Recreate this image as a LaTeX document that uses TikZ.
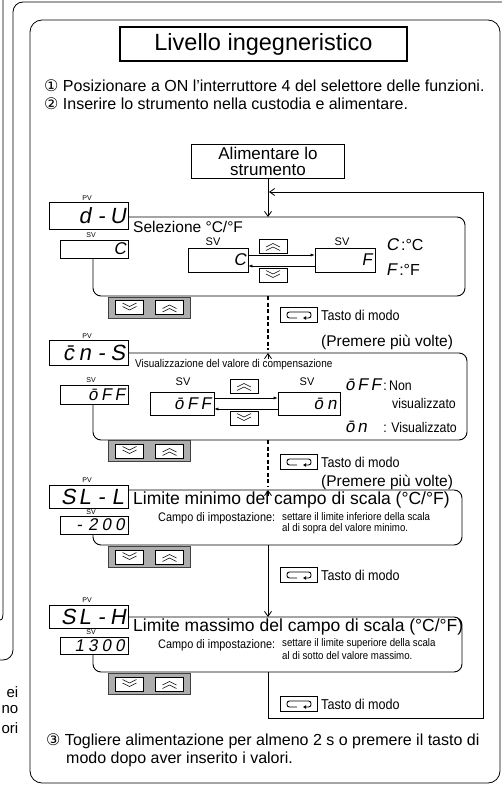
\documentclass[tikz,border=0pt]{standalone}
\usepackage{fontspec}
\setmainfont{Liberation Sans}
\newfontfamily\circfont{DejaVu Sans}
\newfontfamily\segfont{Liberation Sans}[FakeSlant=0.18]
\newfontfamily\narrowfont{Liberation Sans}[FakeStretch=0.88]
\usetikzlibrary{arrows.meta}
\newlength\segw
\newcommand\sg[1]{\makebox[\segw][c]{#1}}
\newcommand\pvf{\segfont\fontsize{22}{22}\selectfont\setlength\segw{16.5pt}}
\newcommand\svf{\segfont\fontsize{17}{17}\selectfont\setlength\segw{13.5pt}}
\newcommand\lbl{\fontsize{7}{7}\selectfont}
\newcommand\fs[1]{\fontsize{#1}{#1}\selectfont}
\tikzset{
  frame/.style={line width=0.8pt},
  boxl/.style={line width=0.9pt, rounded corners=8pt},
  disp/.style={draw, line width=0.7pt, fill=white, inner sep=0pt},
  key/.style={draw, fill=white, line width=0.6pt, minimum width=28pt, minimum height=14pt, inner sep=0pt},
  chev/.style={line width=0.5pt},
  upkey/.style={key, path picture={
     \draw[chev] ([shift={(-7pt,-1pt)}]path picture bounding box.center) -- ++(7pt,3.5pt) -- ++(7pt,-3.5pt);
     \draw[chev] ([shift={(-7pt,-4.5pt)}]path picture bounding box.center) -- ++(7pt,3.5pt) -- ++(7pt,-3.5pt);}},
  downkey/.style={key, path picture={
     \draw[chev] ([shift={(-7pt,1pt)}]path picture bounding box.center) -- ++(7pt,-3.5pt) -- ++(7pt,3.5pt);
     \draw[chev] ([shift={(-7pt,4.5pt)}]path picture bounding box.center) -- ++(7pt,-3.5pt) -- ++(7pt,3.5pt);}},
  pairbg/.style={draw=black!75, fill=black!32, line width=0.5pt, minimum width=82pt, minimum height=21pt, inner sep=0pt},
  modekey/.style={draw, line width=1.2pt, fill=white, minimum width=37pt, minimum height=15pt, inner sep=0pt,
     path picture={
     \draw[line width=0.9pt, rounded corners=2.5pt, -{Latex[length=3pt,width=4pt]}]
        ([shift={(-2pt,-3pt)}]path picture bounding box.center) -- ++(-10pt,0pt) -- ++(0pt,6pt) -- ++(24pt,0pt) -- ++(0pt,-6pt) -- ++(-8pt,0pt);}},
  flow/.style={line width=0.8pt},
  barb/.style={-{Straight Barb[length=5pt,width=7pt]}},
  dflow/.style={line width=1.1pt, dash pattern=on 4pt off 2.5pt},
  sarr/.style={line width=0.5pt, -{Latex[length=4pt,width=3pt]}},
  txt/.style={inner sep=0pt, anchor=west},
}
\begin{document}
\begin{tikzpicture}[x=1pt,y=-1pt]
\useasboundingbox (0,0) rectangle (502,786);
\fill[white] (0,0) rectangle (502,786);

% remnants of the neighbouring page
\draw[frame] (3,0) -- (3,614) to[out=-90,in=0] (0,620);
\draw[frame] (502,2) -- (23,2) to[out=180,in=90] (13,12) -- (13,650) to[out=-90,in=0] (3,660) -- (0,660);
\node[inner sep=0pt, anchor=east, font=\fs{15}] (ra) at (18.5,692) {ei};
\node[inner sep=0pt, anchor=east, font=\fs{15}] (rb) at (18.5,710) {no};
\node[inner sep=0pt, anchor=east, font=\fs{15}] (rc) at (18.5,728) {ori};

% main frame
\draw[frame, rounded corners=12pt] (30,20) rectangle (500,783);

% title and steps
\node[draw, line width=1.6pt, minimum width=287pt, minimum height=34pt, inner sep=0pt, font=\fs{23.5}] (title) at (263.5,44) {Livello ingegneristico};
\node[txt, font=\fs{16}] (s1) at (44,86) {{\circfont ①} Posizionare a ON l’interruttore 4 del selettore delle funzioni.};
\node[txt, font=\fs{16}] (s2) at (44,104) {{\circfont ②} Inserire lo strumento nella custodia e alimentare.};

\node[draw, line width=0.9pt, minimum width=153pt, minimum height=34pt, inner sep=0pt, align=center, font=\fontsize{17}{16}\selectfont] (alim) at (268,161) {Alimentare lo\\strumento};

% ---------- box 1 : Selezione
\node[disp, minimum width=79pt, minimum height=27pt] (pv1) at (88.5,216) {\makebox[75pt][r]{\pvf\sg{d}\sg{-}\sg{U}}};
\node[inner sep=0pt, font=\lbl] (pv1l) at (87,198) {PV};
\node[disp, minimum width=68pt, minimum height=18pt] (sv1) at (94,249) {\makebox[65pt][r]{\svf\sg{C}}};
\node[inner sep=0pt, font=\lbl] (sv1l) at (91,235) {SV};
\draw[boxl] (pv1.east |- 0,217) -- (465,217) -- (465,296) -- (93,296) -- (93,258);
\coordinate (b1top) at (268,217);
\coordinate (b1bot) at (268,296);
\node[txt, font=\fs{15.5}] (t1) at (133,226.5) {Selezione °C/°F};
\node[disp, minimum width=60pt, minimum height=24pt] (d1l) at (218,260) {\makebox[57pt][r]{\svf\sg{C}}};
\node[disp, minimum width=60pt, minimum height=24pt] (d1r) at (345,260) {\makebox[57pt][r]{\svf\sg{F}}};
\node[inner sep=0pt, font=\fs{11}] (d1ll) at (213,241.5) {SV};
\node[inner sep=0pt, font=\fs{11}] (d1rl) at (342,241.5) {SV};
\node[upkey] (u1) at (273,246) {};
\node[downkey] (dn1) at (273,275) {};
\draw[sarr] (d1l.east |- 0,255) -- (d1r.west |- 0,255);
\draw[sarr] (d1r.west |- 0,266) -- (d1l.east |- 0,266);
\node[txt] (lg1) at (386,245) {{\svf C}{\fs{16}\,:°C}};
\node[txt] (lg2) at (386,270) {{\svf F}{\fs{16}\,:°F}};
\node[pairbg] (p1) at (149,307.5) {};
\node[downkey] (p1d) at (129.5,307.5) {};
\node[upkey] (p1u) at (169.5,307.5) {};

% flow 1 -> 2
\node[modekey] (m1) at (299,315) {};
\node[txt, font=\narrowfont\fs{14.3}] (m1t) at (321,315) {Tasto di modo};
\node[txt, font=\fs{15.5}] (m1p) at (321,342) {(Premere più volte)};

% ---------- box 2 : Visualizzazione
\node[disp, minimum width=79pt, minimum height=25pt] (pv2) at (88.5,352.5) {\makebox[75pt][r]{\pvf\sg{\=c}\sg{n}\sg{-}\sg{S}}};
\node[inner sep=0pt, font=\lbl] (pv2l) at (87,336) {PV};
\node[disp, minimum width=68pt, minimum height=19pt] (sv2) at (94,394.5) {\makebox[65pt][r]{\svf\sg{\=o}\sg{F}\sg{F}}};
\node[inner sep=0pt, font=\lbl] (sv2l) at (91,380) {SV};
\draw[boxl] (pv2.east |- 0,353) -- (467,353) -- (467,440) -- (93,440) -- (93,404);
\coordinate (b2top) at (268,353);
\coordinate (b2bot) at (268,440);
\node[txt, font=\narrowfont\fs{11.3}] (t2) at (135,365) {Visualizzazione del valore di compensazione};
\node[disp, minimum width=64pt, minimum height=23pt] (d2l) at (182,403.5) {\makebox[61pt][r]{\svf\sg{\=o}\sg{F}\sg{F}}};
\node[disp, minimum width=62pt, minimum height=23pt] (d2r) at (309,403.5) {\makebox[59pt][r]{\svf\sg{\=o}\sg{n}}};
\node[inner sep=0pt, font=\fs{11}] (d2ll) at (183,382) {SV};
\node[inner sep=0pt, font=\fs{11}] (d2rl) at (307,382) {SV};
\node[upkey] (u2) at (244,386) {};
\node[downkey] (dn2) at (244,418) {};
\draw[sarr] (d2l.east |- 0,398) -- (d2r.west |- 0,398);
\draw[sarr] (d2r.west |- 0,409) -- (d2l.east |- 0,409);
\node[txt] (lg3) at (345,385) {{\svf\=o\,F\,F}{\narrowfont\fs{14}\,:\,Non}};
\node[inner sep=0pt, anchor=east, font=\narrowfont\fs{14}] (lg3b) at (456,403) {visualizzato};
\node[txt] (lg4) at (345,427) {\svf\=o\,n};
\node[inner sep=0pt, anchor=east, font=\narrowfont\fs{14}] (lg4b) at (457,427) {: Visualizzato};
\node[pairbg] (p2) at (149,451) {};
\node[downkey] (p2d) at (129.5,451) {};
\node[upkey] (p2u) at (169.5,451) {};

% flow 2 -> 3
\node[modekey] (m2) at (299,462) {};
\node[txt, font=\narrowfont\fs{14.3}] (m2t) at (321,462) {Tasto di modo};
\node[txt, font=\fs{15.5}] (m2p) at (321,482) {(Premere più volte)};

% ---------- box 3 : Limite minimo
\node[disp, minimum width=79pt, minimum height=23pt] (pv3) at (88.5,496.5) {\makebox[75pt][r]{\pvf\sg{S}\sg{L}\sg{-}\sg{L}}};
\node[inner sep=0pt, font=\lbl] (pv3l) at (87,480) {PV};
\node[disp, minimum width=68pt, minimum height=18pt] (sv3) at (94,525) {\makebox[65pt][r]{\svf\sg{-}\sg{2}\sg{0}\sg{0}}};
\node[inner sep=0pt, font=\lbl] (sv3l) at (91,512.5) {SV};
\draw[boxl] (pv3.east |- 0,490) -- (462,490) -- (462,545) -- (93,545) -- (93,534);
\coordinate (b3top) at (268,490);
\coordinate (b3bot) at (268,545);
\node[txt, font=\fs{17.5}] (t3) at (133,500) {Limite minimo del campo di scala (°C/°F)};
\node[txt, font=\narrowfont\fs{12.4}] (c3) at (158,518) {Campo di impostazione:};
\node[txt, font=\narrowfont\fs{11}] (c3a) at (282,517) {settare il limite inferiore della scala};
\node[txt, font=\narrowfont\fs{11}] (c3b) at (282,529) {al di sopra del valore minimo.};
\node[pairbg] (p3) at (149,557) {};
\node[downkey] (p3d) at (129.5,557) {};
\node[upkey] (p3u) at (169.5,557) {};

\node[modekey] (m3) at (299,575) {};
\node[txt, font=\narrowfont\fs{14.3}] (m3t) at (321,575) {Tasto di modo};

% ---------- box 4 : Limite massimo
\node[disp, minimum width=79pt, minimum height=23pt] (pv4) at (88.5,616.5) {\makebox[75pt][r]{\pvf\sg{S}\sg{L}\sg{-}\sg{H}}};
\node[inner sep=0pt, font=\lbl] (pv4l) at (87,600) {PV};
\node[disp, minimum width=68pt, minimum height=17pt] (sv4) at (94,645.5) {\makebox[65pt][r]{\svf\sg{1}\sg{3}\sg{0}\sg{0}}};
\node[inner sep=0pt, font=\lbl] (sv4l) at (91,632.5) {SV};
\draw[boxl] (pv4.east |- 0,617) -- (462,617) -- (462,672) -- (93,672) -- (93,654);
\coordinate (b4top) at (268,617);
\coordinate (b4bot) at (268,672);
\node[txt, font=\fs{17.5}] (t4) at (133,627) {Limite massimo del campo di scala (°C/°F)};
\node[txt, font=\narrowfont\fs{12.4}] (c4) at (158,645) {Campo di impostazione:};
\node[txt, font=\narrowfont\fs{11}] (c4a) at (282,644) {settare il limite superiore della scala};
\node[txt, font=\narrowfont\fs{11}] (c4b) at (282,656) {al di sotto del valore massimo.};
\node[pairbg] (p4) at (149,684) {};
\node[downkey] (p4d) at (129.5,684) {};
\node[upkey] (p4u) at (169.5,684) {};

\node[modekey] (m4) at (299,704) {};
\node[txt, font=\narrowfont\fs{14.3}] (m4t) at (321,704) {Tasto di modo};

% ---------- flow lines
\coordinate (lp1) at (268,718);
\coordinate (lp2) at (483,718);
\coordinate (lp3) at (483,192);
\coordinate (lp4) at (269,192);
\draw[flow, barb] (alim.south) -- (b1top);
\draw[dflow] (b1bot) -- ([yshift=3pt]b2top);
\draw[flow, barb] ([yshift=-6pt]b2top) -- (b2top);
\draw[dflow] (b2bot) -- ([yshift=3pt]b3top);
\draw[flow, barb] ([yshift=-6pt]b3top) -- (b3top);
\draw[flow, barb] (b3bot) -- (b4top);
\draw[flow, barb] (b4bot) -- (lp1) -- (lp2) -- (lp3) -- (lp4);

% final step
\node[txt, font=\fs{16}] (s3) at (46,741) {{\circfont ③} Togliere alimentazione per almeno 2 s o premere il tasto di};
\node[txt, font=\fs{16}] (s3b) at (66,759) {modo dopo aver inserito i valori.};
\end{tikzpicture}
\end{document}
